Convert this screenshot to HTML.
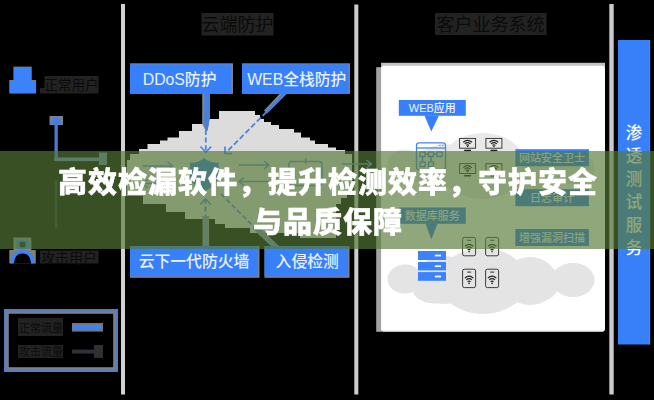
<!DOCTYPE html>
<html lang="zh-CN">
<head>
<meta charset="utf-8">
<title>高效检漏软件，提升检测效率，守护安全与品质保障</title>
<style>
  html, body { margin: 0; padding: 0; background: #000; }
  body { width: 654px; height: 400px; overflow: hidden; position: relative;
         font-family: "Liberation Sans", "Noto Sans CJK SC", sans-serif; }
  #stage { position: absolute; left: 0; top: 0; width: 654px; height: 400px; background: #000; overflow: hidden; }
  #diagram { position: absolute; left: 0; top: 0; display: block; }
  #diagram text { font-family: "Liberation Sans", "Noto Sans CJK SC", sans-serif; }
  #banner { position: absolute; left: 0; top: 151px; width: 654px; height: 98px;
            background: rgba(85,122,53,0.66); }
  #banner h2 { margin: 0; padding: 0; position: absolute; left: 0; top: 12px; width: 654px;
            -webkit-text-stroke: 0.45px #fff; will-change: transform;
            text-align: center; color: #fff; font-weight: 900; font-size: 29px; line-height: 40px;
            font-family: "Liberation Sans", "Noto Sans CJK SC", sans-serif; letter-spacing: 1px; padding-left: 1px; }
</style>
</head>
<body>
<div id="stage">
<svg id="diagram" width="654" height="400" viewBox="0 0 654 400">
  <!-- ===== dividers ===== -->
  <rect x="121" y="4" width="4" height="390.500" fill="#d2d2d2"/>
  <rect x="354.300" y="4.500" width="4" height="390" fill="#cdcdcd"/>
  <rect x="609.300" y="4" width="4.400" height="390.500" fill="#cbcbcb"/>

  <!-- ===== left column ===== -->
  <!-- normal user icon (filled) -->
  <g>
    <rect x="13.400" y="66.600" width="18.300" height="15" fill="#7d7d7d"/>
    <rect x="9.300" y="80" width="26.800" height="13.400" fill="#7d7d7d"/>
    <rect x="14" y="67" width="17.200" height="16" rx="3" fill="#3b82fb"/>
    <path d="M9.800 93.300 V84 Q9.800 80.700 13 80.700 H32.300 Q35.600 80.700 35.600 84 V93.300 Z" fill="#3b82fb"/>
  </g>
  <rect x="44.500" y="76" width="54" height="17.500" fill="#222"/>
  <rect x="40" y="88" width="5" height="5.500" fill="#222"/>
  <text x="44.500" y="89.500" font-size="13.500" fill="#0b0b0b">正常用户</text>

  <!-- L arrow from normal user -->
  <rect x="49.500" y="116" width="13.500" height="9" fill="#7f8089"/>
  <path d="M51 124.500 Q51.500 117.300 56.200 117.300 Q61 117.300 61.500 124.500 Z" fill="#3f80f0"/>
  <rect x="54.500" y="122" width="3.300" height="39" fill="#4a7bd0"/>
  <rect x="54.300" y="157.500" width="50" height="3.600" fill="#5b86c6"/>
  <rect x="99" y="152.500" width="8" height="12.500" fill="#6b88b0"/>
  <!-- faint continuation lines -->
  <rect x="54.800" y="180" width="2.600" height="48.500" fill="#222a3a"/>

  <!-- attacker icon (outline) -->
  <g>
    <rect x="13.500" y="237.500" width="17.800" height="13" fill="#8a8a8a"/>
    <rect x="9.300" y="250" width="26.500" height="13.400" fill="#7f7f7f"/>
    <rect x="16.200" y="239.500" width="12.600" height="10" rx="3" fill="#3b82fb"/>
    <rect x="19.600" y="241.700" width="5.800" height="5.600" rx="1" fill="#1a1a1a"/>
    <clipPath id="bodyclip"><rect x="8" y="249" width="30" height="14.400"/></clipPath>
    <path clip-path="url(#bodyclip)" d="M11.600 266 L13.600 257.200 Q16 251.900 22.500 251.900 Q29 251.900 31.400 257.200 L33.400 266 Z" fill="#000" stroke="#3b82fb" stroke-width="3.300"/>
  </g>
  <rect x="40" y="250.500" width="58.500" height="13" fill="#222"/>
  <text x="41" y="263" font-size="14" fill="#0b0b0b">攻击用户</text>

  <!-- legend -->
  <rect x="6.400" y="311.400" width="109.200" height="58.200" fill="none" stroke="#7a7f8a" stroke-width="4.800"/>
  <rect x="5.100" y="310.100" width="111.800" height="60.800" fill="none" stroke="#577cc4" stroke-width="2.200"/>
  <rect x="18" y="318" width="45" height="18" fill="#222"/>
  <text x="19" y="332" font-size="11" fill="#0b0b0b">正常流量</text>
  <rect x="18" y="345" width="45" height="13" fill="#222"/>
  <text x="19" y="356" font-size="11" fill="#0b0b0b">攻击流量</text>
  <rect x="72" y="323" width="31" height="8.600" fill="#757575"/>
  <rect x="72.500" y="325" width="26" height="4" fill="#3b82fb"/>
  <path d="M97 323.500 L103 327.200 L97 331 Z" fill="#3b82fb"/>
  <rect x="72" y="349.600" width="28" height="4" fill="#2d3239"/>
  <rect x="94" y="345" width="9" height="13" fill="#2f3033"/>

  <!-- ===== middle column ===== -->
  <rect x="201.500" y="13" width="72" height="22.500" fill="#232323"/>
  <text x="201.500" y="31" font-size="18" fill="#0b0b0b">云端防护</text>

  <!-- main cloud -->
  <path id="cloud" fill="#dcdcdc" d="M219 111 H255 V115 H260 V119 H264 V122 H271 V125 H279 V129 H294 V132.500 H301 V137.500 H310 V140.500 H315 V144 H328 V147.500 H336 V150 H345 V154 H352 V193 H347 V198 H341 V204 H336 V238 H300 V233 H250 V228 H225 V224 H215 V219 H185 V212 H166 V204 H143 V196 H127 V160 H130 V154 H139 V149 H147.500 V144 H160 V140.500 H167.500 V137.500 H179 V131 H192 V124 H206 V119 H219 Z"/>

  <!-- DDoS box -->
  <rect x="130" y="63.300" width="103" height="30.600" fill="#7c838f"/>
  <rect x="130" y="64.300" width="101.300" height="29.600" fill="#387ffa"/>
  <text x="179.600" y="85.300" font-size="15.800" font-weight="500" text-anchor="middle" fill="#e9f1ff">DDoS防护</text>
  <!-- WEB box -->
  <rect x="242" y="63.300" width="108" height="30.600" fill="#7c838f"/>
  <rect x="242" y="64.300" width="106.500" height="29.600" fill="#387ffa"/>
  <text x="296.800" y="85.300" font-size="15.800" font-weight="500" text-anchor="middle" fill="#e9f1ff">WEB全栈防护</text>

  <!-- line from DDoS down -->
  <path d="M202.200 93.900 H209.800 V118 L207.600 130.500 H205.600 L202.200 124 Z" fill="#828690"/>
  <path d="M204 93.900 H209.800 V118 L207.600 130.500 H205.800 L204 122 Z" fill="#4a7fd6"/>
  <line x1="205.800" y1="130" x2="205.800" y2="151" stroke="#4f83dc" stroke-width="1.800" stroke-dasharray="5 2.600"/>
  <path d="M200.500 146.500 L205.800 152.300 L211.200 146.500" fill="none" stroke="#4f83dc" stroke-width="1.700"/>

  <!-- diagonal from WEB box -->
  <path d="M279.500 93.900 H286.500 L267 113.500 L264 110.500 Z" fill="#828690"/>
  <path d="M282 93.900 H286.500 L267.500 113 L265.500 111 Z" fill="#4a7fd6"/>
  <line x1="266.500" y1="112" x2="226.500" y2="152" stroke="#4f83dc" stroke-width="1.800" stroke-dasharray="5.500 2.600"/>
  <path d="M225 146.500 V153.500 H232" fill="none" stroke="#4f83dc" stroke-width="1.700"/>

  <!-- inside cloud: shield, arrows, box -->
  <path d="M204.300 158 Q210 163 218.600 162.700 V176 Q218 185 204.300 191.500 Q190.500 185 190 176 V162.700 Q198.500 163 204.300 158 Z" fill="#3a80f0"/>
  <g stroke="#5a8fd8" stroke-width="1.500" fill="none">
    <path d="M142.500 166 H172 M167.500 162 L172.500 166 L167.500 170"/>
    <path d="M173 183.500 H143 M147.500 179.500 L142.500 183.500 L147.500 187.500"/>
    <path d="M239 165 H268.500 M264 161 L269 165 L264 169"/>
    <path d="M269 181.500 H239.500 M244 177.500 L239 181.500 L244 185.500"/>
    <rect x="289" y="161.500" width="33" height="24" rx="3"/>
    <path d="M305.600 158 V164"/>
    <path d="M342 164 H371 M366.500 160 L371.500 164 L366.500 168"/>
  </g>
  <!-- arrow from firewall box up to shield -->
  <line x1="205.500" y1="199" x2="205.500" y2="232" stroke="#4f83dc" stroke-width="1.800" stroke-dasharray="5 2.600"/>
  <path d="M200.300 204.500 L205.500 199 L210.800 204.500" fill="none" stroke="#4f83dc" stroke-width="1.700"/>
  <rect x="202.500" y="216" width="6.600" height="31" fill="#8792a6"/>
  <rect x="204.600" y="216" width="3.200" height="31" fill="#6d8fce"/>
  <!-- diagonal dashed from intrusion box -->
  <line x1="221" y1="194" x2="254" y2="227" stroke="#4f83dc" stroke-width="1.600" stroke-dasharray="5 2.600"/>
  <line x1="254.500" y1="226.500" x2="277" y2="248" stroke="#8792a6" stroke-width="5.600"/>
  <line x1="255.500" y1="226" x2="278" y2="247.500" stroke="#6d8fce" stroke-width="2.400"/>

  <!-- lower boxes -->
  <rect x="130" y="246" width="129.500" height="31.800" fill="#7c838f"/>
  <rect x="130" y="246" width="128" height="30.300" fill="#387ffa"/>
  <text x="194" y="267.400" font-size="15.800" font-weight="500" text-anchor="middle" fill="#e9f1ff">云下一代防火墙</text>
  <rect x="264.500" y="246" width="85" height="31.800" fill="#7c838f"/>
  <rect x="264.500" y="246" width="83.500" height="30.300" fill="#387ffa"/>
  <text x="307.200" y="267.400" font-size="15.800" font-weight="500" text-anchor="middle" fill="#e9f1ff">入侵检测</text>

  <!-- ===== right column ===== -->
  <rect x="435" y="13" width="111.500" height="22" fill="#222"/>
  <text x="436.500" y="31" font-size="18" fill="#0b0b0b">客户业务系统</text>

  <!-- white panel -->
  <rect x="376.200" y="67.200" width="6" height="264.600" fill="#a2a2a2"/>
  <rect x="381.100" y="62.800" width="223.900" height="5" fill="#c2c2c2"/>
  <rect x="381.100" y="65.800" width="223.900" height="266" rx="3" fill="#fff"/>
  <rect x="383" y="330.800" width="220" height="1.200" fill="#bdbdbd"/>

  <!-- small clouds (same shape, top one shifted up) -->
  <defs>
    <g id="scloud">
      <ellipse cx="405" cy="279" rx="17.500" ry="14.500"/>
      <ellipse cx="445" cy="280" rx="30" ry="24"/>
      <ellipse cx="483" cy="281" rx="44" ry="33"/>
      <ellipse cx="530" cy="281" rx="27" ry="24"/>
      <ellipse cx="573" cy="280" rx="21.500" ry="17"/>
      <ellipse cx="435" cy="290" rx="22" ry="13.500"/>
      <ellipse cx="488" cy="291" rx="38" ry="18.500"/>
      <ellipse cx="530" cy="289" rx="27" ry="14"/>
      <ellipse cx="490" cy="280" rx="90" ry="15"/>
    </g>
  </defs>
  <g fill="#e9e9e9">
    <ellipse cx="405" cy="164" rx="17.500" ry="14.500"/>
    <ellipse cx="445" cy="166" rx="29" ry="22"/>
    <ellipse cx="483" cy="166" rx="43" ry="33"/>
    <ellipse cx="530" cy="170" rx="27" ry="19.500"/>
    <ellipse cx="573" cy="168" rx="21.500" ry="16"/>
    <ellipse cx="435" cy="175" rx="22" ry="13.500"/>
    <ellipse cx="488" cy="176" rx="38" ry="18.500"/>
    <ellipse cx="530" cy="174" rx="27" ry="14"/>
    <ellipse cx="490" cy="166" rx="90" ry="14"/>
  </g>
  <use href="#scloud" fill="#e4e4e4"/>

  <!-- WEB应用 callout -->
  <rect x="398.800" y="100" width="67" height="15.800" fill="#387ffa"/>
  <path d="M424.400 115.500 H439 L431.300 131.500 Z" fill="#387ffa"/>
  <text x="408.800" y="112" font-size="11" font-weight="500" fill="#eef4ff">WEB应用</text>

  <!-- browser icon -->
  <g fill="none" stroke="#4a86ec" stroke-width="1.300">
    <rect x="416.500" y="142.800" width="29" height="27" rx="2.500"/>
    <path d="M416.500 148 H445.500"/>
    <path d="M439.300 145.400 H440.500 M442.200 145.400 H443.400" stroke-width="1.200"/>
    <rect x="420" y="152" width="5" height="4.500"/>
    <rect x="428.500" y="152" width="5" height="4.500"/>
    <rect x="437" y="152" width="5" height="4.500"/>
    <rect x="420" y="162" width="5" height="4.500"/>
    <rect x="428.500" y="162" width="5" height="4.500"/>
    <path d="M425 154.200 H428.500 M433.500 154.200 H437 M422.500 156.500 V162 M431 156.500 V162"/>
  </g>

  <!-- monitors with wifi -->
  <defs>
    <g id="mon">
      <rect x="0.400" y="0.400" width="16" height="9.800" fill="none" stroke="#2a2a2a" stroke-width="0.900"/>
      <path d="M4 4.300 Q8.400 0.500 12.800 4.300 M5.500 5.900 Q8.400 3.400 11.300 5.900 M6.900 7.400 Q8.400 6.200 9.900 7.400" fill="none" stroke="#222" stroke-width="1.150"/>
      <circle cx="8.400" cy="8.500" r="0.750" fill="#222"/>
      <rect x="5" y="11.700" width="6.800" height="1.500" fill="#1e1e1e"/>
    </g>
    <g id="phone">
      <rect x="0.400" y="0.400" width="13" height="18.400" rx="1.800" fill="none" stroke="#2a2a2a" stroke-width="0.900"/>
      <path d="M5 3.300 H9" stroke="#2a2a2a" stroke-width="1"/>
      <path d="M2.700 9.300 Q6.900 5.500 11.100 9.300 M4.100 11.100 Q6.900 8.600 9.700 11.100 M5.500 12.900 Q6.900 11.700 8.300 12.900" fill="none" stroke="#222" stroke-width="1.200"/>
      <circle cx="6.900" cy="14.600" r="0.800" fill="#222"/>
    </g>
  </defs>
  <use href="#mon" x="459.200" y="138"/>
  <use href="#mon" x="485.500" y="138"/>
  <use href="#mon" x="459.200" y="163.300"/>
  <use href="#mon" x="485.500" y="163.300"/>

  <!-- right small boxes -->
  <rect x="515.400" y="149.200" width="73.500" height="17" fill="#387ffa"/>
  <text x="519" y="161.700" font-size="11" font-weight="500" fill="#eaf2ff">网站安全卫士</text>
  <rect x="515.400" y="189.200" width="73.500" height="17" fill="#387ffa"/>
  <text x="530" y="201.700" font-size="11" font-weight="500" fill="#eaf2ff">日志审计</text>
  <rect x="515.400" y="229" width="73.500" height="17" fill="#387ffa"/>
  <text x="519" y="241.600" font-size="11" font-weight="500" fill="#eaf2ff">增强漏洞扫描</text>

  <!-- 数据库服务 callout -->
  <rect x="398.800" y="207.500" width="67" height="16.300" fill="#387ffa"/>
  <path d="M425.500 223.500 H437.500 L431.400 239.500 Z" fill="#387ffa"/>
  <text x="404.800" y="219.600" font-size="11" font-weight="500" fill="#eaf2ff">数据库服务</text>

  <!-- server icon -->
  <g>
    <rect x="418" y="251" width="28" height="9" fill="#3b82fb"/>
    <rect x="418" y="262" width="28" height="8.400" fill="#3b82fb"/>
    <rect x="418" y="272.100" width="28" height="8.700" fill="#3b82fb"/>
    <rect x="434.800" y="254.600" width="6.200" height="1.800" fill="#f2f6ff"/>
    <rect x="434.800" y="265.300" width="6.200" height="1.800" fill="#f2f6ff"/>
    <rect x="434.800" y="275.600" width="6.200" height="1.800" fill="#f2f6ff"/>
  </g>

  <!-- phones -->
  <use href="#phone" x="462.200" y="237"/>
  <use href="#phone" x="485.200" y="237"/>
  <use href="#phone" x="462.200" y="268.800"/>
  <use href="#phone" x="485.200" y="268.800"/>

  <!-- vertical blue box on far right -->
  <rect x="618" y="40" width="32" height="304.500" fill="#387ffa"/>
  <rect x="649" y="40" width="1.200" height="304.500" fill="#5f83c4"/>
  <g font-size="16.500" font-weight="500" fill="#f8fbff" text-anchor="middle">
    <text x="634" y="138.700">渗</text>
    <text x="634" y="161.700">透</text>
    <text x="634" y="184.700">测</text>
    <text x="634" y="207.700">试</text>
    <text x="634" y="230.700">服</text>
    <text x="634" y="253.700">务</text>
  </g>
</svg>

<div id="banner"><h2>高效检漏软件，提升检测效率，守护安全<br>与品质保障</h2></div>
</div>
</body>
</html>
